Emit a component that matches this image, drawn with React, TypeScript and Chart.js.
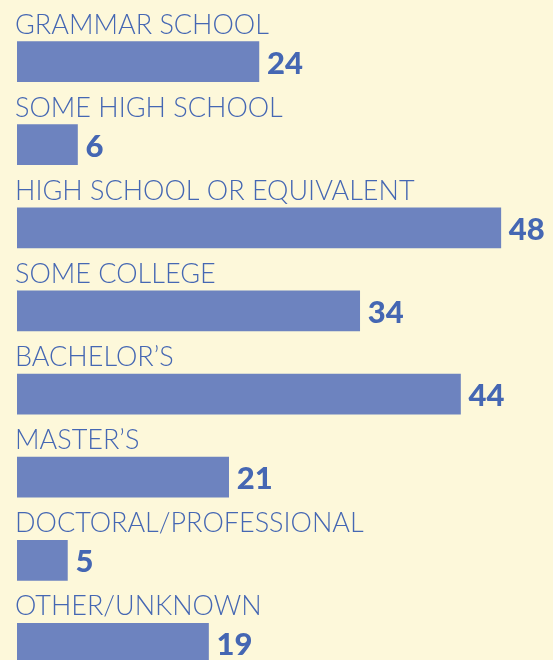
import React, { useEffect, useRef } from "react";
import { Chart, registerables } from "chart.js";

Chart.register(...registerables);

const categories = [
  "GRAMMAR SCHOOL",
  "SOME HIGH SCHOOL",
  "HIGH SCHOOL OR EQUIVALENT",
  "SOME COLLEGE",
  "BACHELOR\u2019S",
  "MASTER\u2019S",
  "DOCTORAL/PROFESSIONAL",
  "OTHER/UNKNOWN",
];
const values = [24, 6, 48, 34, 44, 21, 5, 19];

const BG = "#FDF8DA";
const BAR = "#6D83BF";
const TEXT = "#4567B3";

const labelPlugin = {
  id: "rowLabels",
  afterDatasetsDraw(chart: any) {
    const ctx = chart.ctx;
    const meta = chart.getDatasetMeta(0);
    ctx.save();
    meta.data.forEach((bar: any, i: number) => {
      const top = bar.y - 20;
      ctx.fillStyle = TEXT;
      ctx.textAlign = "left";
      ctx.textBaseline = "alphabetic";
      ctx.font = "300 27px Lato";
      ctx.fillText(categories[i], 15, top - 8);
      ctx.font = "900 31px Lato";
      ctx.textBaseline = "middle";
      ctx.fillText(String(values[i]), bar.x + 8, bar.y + 2);
    });
    ctx.restore();
  },
};

const bgPlugin = {
  id: "bg",
  beforeDraw(chart: any) {
    const ctx = chart.ctx;
    ctx.save();
    ctx.fillStyle = BG;
    ctx.fillRect(0, 0, chart.width, chart.height);
    ctx.restore();
  },
};

export default function App() {
  const ref = useRef<HTMLCanvasElement | null>(null);
  useEffect(() => {
    if (!ref.current) return;
    const chart = new Chart(ref.current, {
      type: "bar",
      data: {
        labels: categories,
        datasets: [
          {
            data: values,
            backgroundColor: BAR,
            barThickness: 40,
            categoryPercentage: 1,
          },
        ],
      },
      options: {
        indexAxis: "y",
        animation: false,
        responsive: false,
        maintainAspectRatio: false,
        layout: { padding: { left: 17, right: 1.8, top: 20, bottom: 15 } },
        plugins: { legend: { display: false }, tooltip: { enabled: false } },
        scales: {
          x: { display: false, min: 0, max: 53 },
          y: { display: false },
        },
      },
      plugins: [bgPlugin, labelPlugin],
    });
    return () => chart.destroy();
  }, []);
  return (
    <div style={{ position: "fixed", left: 0, top: 0, width: 553, height: 700, background: BG }}>
      <canvas ref={ref} width={553} height={700} style={{ width: 553, height: 700 }} />
    </div>
  );
}
